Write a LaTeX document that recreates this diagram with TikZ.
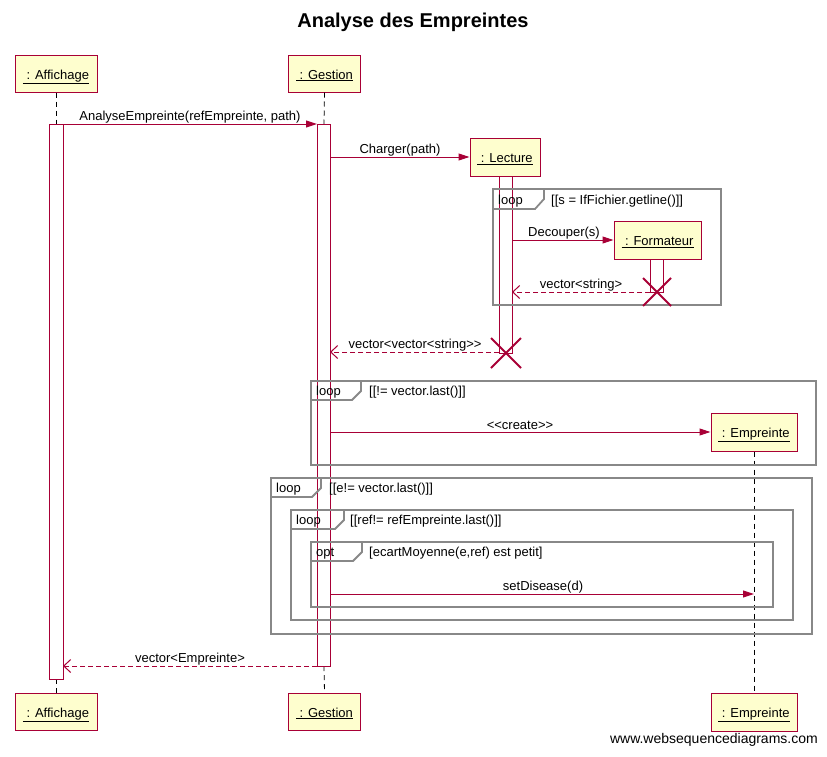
\documentclass[tikz,border=0pt]{standalone}
\usepackage{fontspec}
\setmainfont{Liberation Sans}
\usetikzlibrary{arrows.meta}
\definecolor{crim}{HTML}{A80036}
\definecolor{pfill}{HTML}{FEFECE}
\definecolor{fgray}{HTML}{888888}
\tikzset{
  part/.style={draw=crim, fill=pfill, line width=1pt, rectangle, minimum height=37pt, inner sep=0pt, text height=14pt, text depth=3pt, font=\fontsize{13}{15}\selectfont},
  actbox/.style={draw=crim, line width=1pt},
  msg/.style={draw=crim, line width=1pt, -{Triangle[length=11pt,width=7pt]}},
  ret/.style={draw=crim, line width=1pt, dash pattern=on 5pt off 3pt, -{Straight Barb[length=7pt,width=13pt]}},
  life/.style={draw=black, dash pattern=on 5pt off 4pt, line width=0.8pt},
  frm/.style={draw=fgray, line width=1.8pt},
  lbl/.style={font=\fontsize{13}{15}\selectfont, inner sep=0pt, yshift=-2pt},
  kill/.style={draw=crim, line width=1.8pt},
}
\begin{document}
\begin{tikzpicture}[x=1pt,y=-1pt]
\useasboundingbox (0,0) rectangle (827,756);
% title
\node[font=\fontsize{20}{24}\selectfont\bfseries] (title) at (413,22) {Analyse des Empreintes};
% participants
\node[part, minimum width=82pt] (aff) at (56,73.5) {\underline{ : Affichage}};
\node[part, minimum width=72pt] (ges) at (324.5,73.5) {\underline{ : Gestion}};
\node[part, minimum width=70pt, minimum height=38pt] (lec) at (505,157) {\underline{ : Lecture}};
\node[part, minimum width=87pt, minimum height=38pt] (form) at (657.5,240) {\underline{ : Formateur}};
\node[part, minimum width=86pt, minimum height=38pt] (emp) at (754,432) {\underline{ : Empreinte}};
\node[part, minimum width=82pt] (affb) at (56,711.5) {\underline{ : Affichage}};
\node[part, minimum width=72pt] (gesb) at (324.5,711.5) {\underline{ : Gestion}};
\node[part, minimum width=86pt, minimum height=38pt] (empb) at (754,712) {\underline{ : Empreinte}};
% lifelines
\coordinate (affA) at (56,124); \coordinate (affZ) at (56,679);
\coordinate (gesA) at (324,124); \coordinate (gesZ) at (324,666);
\draw[life] (aff.south) -- (affA);
\draw[life] (affZ) -- (affb.north);
\draw[life] (ges.south) -- (gesA);
\draw[life] (gesZ) -- (gesb.north);
\draw[life] (emp.south) -- (empb.north);
% activations
\draw[actbox] (49,124) rectangle (63,679);
\draw[actbox] (317,124) rectangle (330,666);
\draw[actbox] (499,176) rectangle (512,353);
\draw[actbox] (650,259) rectangle (663,292);
% frames
\draw[frm] (493,189) rectangle (721,305);
\draw[frm] (493,189) -- (544,189) -- (544,199) -- (535,209) -- (493,209);
\node[lbl, anchor=west] (f1a) at (498,199.5) {loop};
\node[lbl, anchor=west] (f1b) at (551,199.5) {[[s = IfFichier.getline()]]};
\draw[frm] (311,381) rectangle (816,465);
\draw[frm] (311,381) -- (361,381) -- (361,391) -- (352,400) -- (311,400);
\node[lbl, anchor=west] (f2a) at (316,390.5) {loop};
\node[lbl, anchor=west] (f2b) at (369,390.5) {[[!= vector.last()]]};
\draw[frm] (271,478) rectangle (812,634);
\draw[frm] (271,478) -- (321,478) -- (321,488) -- (312,497) -- (271,497);
\node[lbl, anchor=west] (f3a) at (276,487.5) {loop};
\node[lbl, anchor=west] (f3b) at (329,487.5) {[[e!= vector.last()]]};
\draw[frm] (291,510) rectangle (793,620);
\draw[frm] (291,510) -- (344,510) -- (344,520) -- (335,529) -- (291,529);
\node[lbl, anchor=west] (f4a) at (296,519.5) {loop};
\node[lbl, anchor=west] (f4b) at (350,519.5) {[[ref!= refEmpreinte.last()]]};
\draw[frm] (311,542) rectangle (773,607);
\draw[frm] (311,542) -- (362,542) -- (362,552) -- (353,561) -- (311,561);
\node[lbl, anchor=west] (f5a) at (316,551.5) {opt};
\node[lbl, anchor=west] (f5b) at (369,551.5) {[ecartMoyenne(e,ref) est petit]};
% message endpoints
\coordinate (m1s) at (63,124); \coordinate (m1e) at (317,124);
\coordinate (m2s) at (330,157);
\coordinate (m3s) at (512,240);
\coordinate (m4s) at (650,292); \coordinate (m4e) at (512,292);
\coordinate (m5s) at (499,352); \coordinate (m5e) at (330,352);
\coordinate (m6s) at (330,432);
\coordinate (m7s) at (330,594); \coordinate (m7e) at (754,594);
\coordinate (m8s) at (317,666); \coordinate (m8e) at (63,666);
% messages
\draw[msg] (m1s) -- (m1e);
\node[lbl] (l1) at (190,115.5) {AnalyseEmpreinte(refEmpreinte, path)};
\draw[msg] (m2s) -- (lec.west);
\node[lbl] (l2) at (400,148) {Charger(path)};
\draw[msg] (m3s) -- (form.west);
\node[lbl] (l3) at (564,231) {Decouper(s)};
\draw[ret] (m4s) -- (m4e);
\node[lbl] (l4) at (581,283) {vector<string>};
\draw[ret] (m5s) -- (m5e);
\node[lbl] (l5) at (415,343) {vector<vector<string>{}>};
\draw[msg] (m6s) -- (emp.west);
\node[lbl] (l6) at (520,423) {<{}<create>{}>};
\draw[msg] (m7s) -- (m7e);
\node[lbl] (l7) at (543,585) {setDisease(d)};
\draw[ret] (m8s) -- (m8e);
\node[lbl] (l8) at (190,657.5) {vector<Empreinte>};
% destroys
\draw[kill] (643,278) -- (671,306) (671,278) -- (643,306);
\draw[kill] (491,338) -- (521,368) (521,338) -- (491,368);
% watermark
\node[font=\fontsize{14}{16}\selectfont, anchor=east, inner sep=0pt] (wm) at (818,740) {www.websequencediagrams.com};
\end{tikzpicture}
\end{document}
